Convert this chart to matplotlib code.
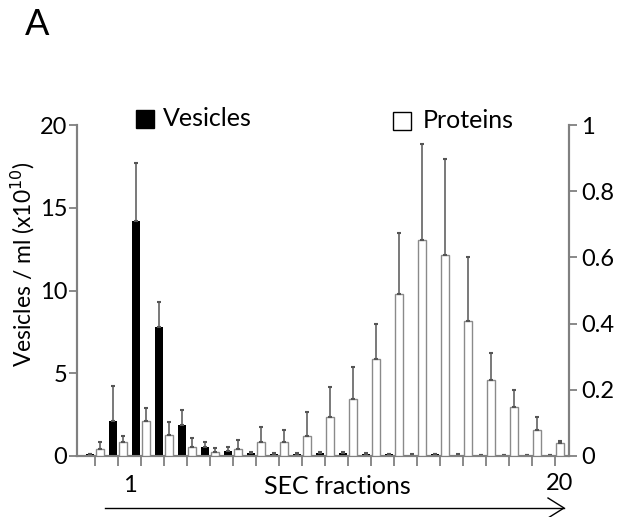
import numpy as np
import matplotlib
matplotlib.use("Agg")
import matplotlib.pyplot as plt
from matplotlib.patches import Rectangle
from matplotlib.lines import Line2D

plt.rcParams['font.family'] = ['Lato', 'DejaVu Sans']

# SEC fractions (21 groups on the axis)
fractions = np.arange(21)

# vesicles / ml (x10^10), left axis
vesicles = [0.1, 2.1, 14.2, 7.8, 1.9, 0.56, 0.32, 0.2, 0.15, 0.15, 0.2,
            0.2, 0.15, 0.1, 0.08, 0.12, 0.08, 0.05, 0.05, 0.05, 0.05]
vesicles_err = [0.05, 2.1, 3.5, 1.5, 0.85, 0.3, 0.24, 0.05, 0.04, 0.04, 0.04,
                0.04, 0.04, 0.03, 0.03, 0.03, 0.02, 0.02, 0.02, 0.02, 0.02]

# proteins, right axis
proteins = [0.021, 0.041, 0.106, 0.064, 0.026, 0.011, 0.021, 0.043, 0.041, 0.061, 0.117,
            0.172, 0.292, 0.49, 0.654, 0.608, 0.408, 0.231, 0.147, 0.079, 0.038]
proteins_err = [0.022, 0.02, 0.038, 0.039, 0.027, 0.012, 0.028, 0.046, 0.037, 0.072, 0.092,
                0.098, 0.106, 0.185, 0.289, 0.289, 0.194, 0.08, 0.052, 0.039, 0.008]

left_ticks = [0, 5, 10, 15, 20]
right_ticks = [0, 0.2, 0.4, 0.6, 0.8, 1]
right_labels = ['0', '0.2', '0.4', '0.6', '0.8', '1']

W, H = 619, 517
fig = plt.figure(figsize=(W / 100, H / 100), dpi=100)

# axes box in pixels: left spine 77, right spine 569, baseline 456, top 125
ax = fig.add_axes([77 / W, 1 - 456 / H, (569 - 77) / W, (456 - 125) / H])
ax2 = ax.twinx()

grey = '#808080'
err_kw = dict(ecolor='#555555', elinewidth=1.1, capsize=1.5, capthick=1.5)
bw = 0.34

ax.bar(fractions - 0.2, vesicles, bw, color='black',
       yerr=[np.zeros(len(vesicles)), vesicles_err], error_kw=err_kw, zorder=3)
ax2.bar(fractions + 0.2, proteins, bw, color='white', edgecolor='#8a8a8a', linewidth=1,
        yerr=[np.zeros(len(proteins)), proteins_err], error_kw=err_kw, zorder=3)

# data -> pixel: group 0 at x=95 px, group 20 at x=555 px
step = (555 - 95) / 20
ax.set_xlim(-(95 - 77) / step, 20 + (569 - 555) / step)
ax.set_ylim(0, 20)
ax2.set_ylim(0, 1)

ax.set_xticks(fractions)
ax.set_xticklabels([])
ax.set_yticks(left_ticks)
ax.set_yticklabels([str(t) for t in left_ticks])
ax2.set_yticks(right_ticks)
ax2.set_yticklabels(right_labels)

for a in (ax, ax2):
    for s in a.spines.values():
        s.set_color(grey)
        s.set_linewidth(1.5)
    a.spines['top'].set_visible(False)
    a.tick_params(colors=grey, labelcolor='black', labelsize=17, width=1.3, length=6, direction='out')
ax.tick_params(axis='y', pad=1)
ax2.tick_params(axis='y', pad=3)
ax.tick_params(axis='x', length=7)

# texts
fig.text(25 / W, 1 - 35 / H, 'A', fontsize=26, ha='left', va='baseline')
fig.text(23 / W, 1 - 264 / H, 'Vesicles / ml (x10$^{10}$)', rotation=90,
         fontsize=16.5, ha='center', va='center')
fig.text(130 / W, 1 - 485 / H, '1', fontsize=17, ha='center', va='center')
fig.text(560 / W, 1 - 483 / H, '20', fontsize=17, ha='center', va='center')
fig.text(337 / W, 1 - 487 / H, 'SEC fractions', fontsize=18, ha='center', va='center')

# legend squares
fig.patches.append(Rectangle((136 / W, 1 - 128 / H), 18 / W, 18 / H, transform=fig.transFigure,
                             facecolor='black', edgecolor='black', figure=fig))
fig.text(163 / W, 1 - 119 / H, 'Vesicles', fontsize=18, ha='left', va='center')
fig.patches.append(Rectangle((393 / W, 1 - 130 / H), 18 / W, 18 / H, transform=fig.transFigure,
                             facecolor='white', edgecolor='black', linewidth=1, figure=fig))
fig.text(423 / W, 1 - 120 / H, 'Proteins', fontsize=18, ha='left', va='center')

# arrow under the axis
fig.lines.append(Line2D([105 / W, 564 / W], [1 - 508 / H, 1 - 508 / H], transform=fig.transFigure,
                        color='black', linewidth=1))
fig.lines.append(Line2D([548 / W, 564 / W, 548 / W], [1 - 498 / H, 1 - 508 / H, 1 - 518 / H],
                        transform=fig.transFigure, color='black', linewidth=1))

fig.savefig('out.png', dpi=100, facecolor='white')
